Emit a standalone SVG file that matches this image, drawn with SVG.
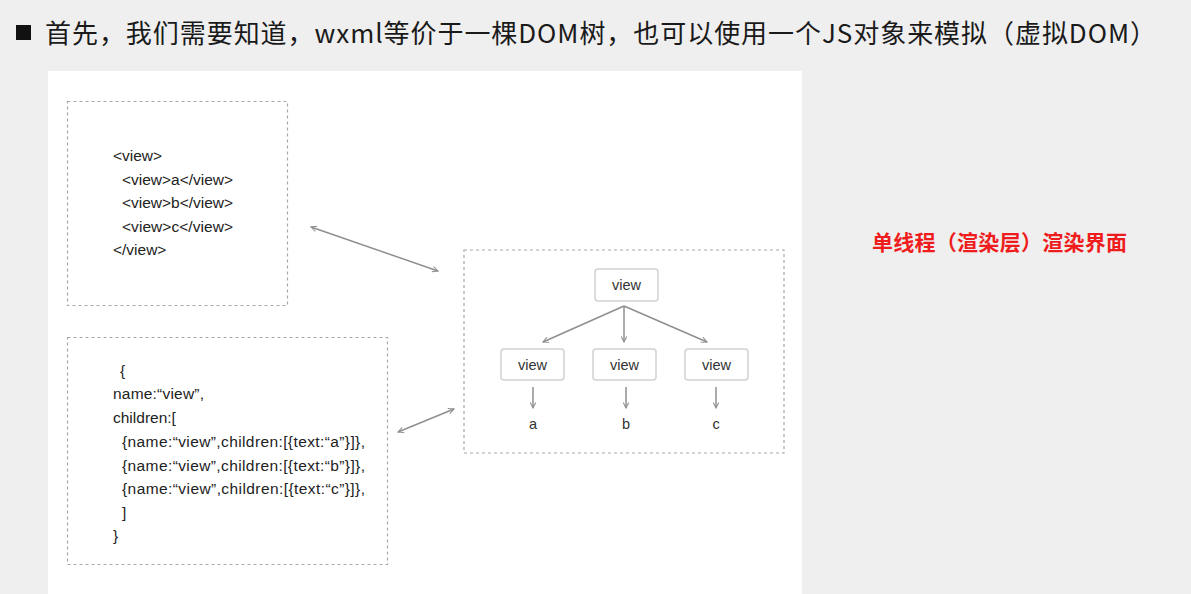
<svg xmlns="http://www.w3.org/2000/svg" width="1191" height="594" viewBox="0 0 1191 594">
  <style>
    .title { font-family: "Noto Sans CJK SC", "Noto Sans", sans-serif; font-size: 26px; fill: #1a1a1a; }
    .red { font-family: "Noto Sans CJK SC", sans-serif; font-size: 21px; font-weight: bold; fill: #ee1c1c; }
    .code { font-family: "Liberation Sans", Arial, sans-serif; font-size: 15.5px; fill: #222; }
    .lbl { font-family: "Liberation Sans", Arial, sans-serif; font-size: 14.5px; fill: #333; text-anchor: middle; }
    .dash { fill: none; stroke: #a8a8a8; stroke-width: 1.2; stroke-dasharray: 3 3; }
    .node { fill: #fff; stroke: #d2d2d2; stroke-width: 1.5; }
    .conn { fill: none; stroke: #8f8f8f; stroke-width: 1.5; }
  </style>
  <defs>
    <marker id="ah" viewBox="0 0 10 10" refX="9" refY="5" markerWidth="7" markerHeight="7" orient="auto-start-reverse" markerUnits="userSpaceOnUse">
      <path d="M1,1 L9,5 L1,9" fill="none" stroke="#8f8f8f" stroke-width="1.5"/>
    </marker>
  </defs>
  <rect x="0" y="0" width="1191" height="594" fill="#efefef"/>
  <rect x="48" y="71" width="754" height="523" fill="#ffffff"/>

  <g id="title">
    <rect x="16" y="25" width="15" height="15" fill="#111"/>
    <text class="title" x="45" y="43" textLength="1111" lengthAdjust="spacing">首先，我们需要知道，wxml等价于一棵DOM树，也可以使用一个JS对象来模拟（虚拟DOM）</text>
  </g>

  <g id="wxml-box">
    <rect class="dash" x="67.5" y="101.5" width="220" height="204"/>
    <text class="code" x="113" y="161">&lt;view&gt;</text>
    <text class="code" x="122" y="185" textLength="111" lengthAdjust="spacing">&lt;view&gt;a&lt;/view&gt;</text>
    <text class="code" x="122" y="208" textLength="111" lengthAdjust="spacing">&lt;view&gt;b&lt;/view&gt;</text>
    <text class="code" x="122" y="232" textLength="111" lengthAdjust="spacing">&lt;view&gt;c&lt;/view&gt;</text>
    <text class="code" x="113" y="255">&lt;/view&gt;</text>
  </g>

  <g id="js-box">
    <rect class="dash" x="67.5" y="337.5" width="320" height="227"/>
    <text class="code" x="120" y="376">{</text>
    <text class="code" x="113" y="399" textLength="91" lengthAdjust="spacing">name:“view”,</text>
    <text class="code" x="113" y="423">children:[</text>
    <text class="code" x="122" y="447" textLength="243" lengthAdjust="spacing">{name:“view”,children:[{text:“a”}]},</text>
    <text class="code" x="122" y="471" textLength="243" lengthAdjust="spacing">{name:“view”,children:[{text:“b”}]},</text>
    <text class="code" x="122" y="494" textLength="243" lengthAdjust="spacing">{name:“view”,children:[{text:“c”}]},</text>
    <text class="code" x="122" y="518">]</text>
    <text class="code" x="113" y="541">}</text>
  </g>

  <g id="tree-box">
    <rect class="dash" x="464" y="250" width="320" height="203"/>
  </g>

  <g id="root-view">
    <rect class="node" x="595" y="269" width="63" height="32" rx="3"/>
    <text class="lbl" x="626.5" y="290">view</text>
  </g>
  <g id="view-a">
    <rect class="node" x="501" y="349" width="63" height="31" rx="3"/>
    <text class="lbl" x="532.5" y="370">view</text>
  </g>
  <g id="view-b">
    <rect class="node" x="593" y="349" width="63" height="31" rx="3"/>
    <text class="lbl" x="624.5" y="370">view</text>
  </g>
  <g id="view-c">
    <rect class="node" x="685" y="349" width="63" height="31" rx="3"/>
    <text class="lbl" x="716.5" y="370">view</text>
  </g>
  <g id="leaf-a"><text class="lbl" x="533" y="429">a</text></g>
  <g id="leaf-b"><text class="lbl" x="626" y="429">b</text></g>
  <g id="leaf-c"><text class="lbl" x="716" y="429">c</text></g>

  <g id="note">
    <text class="red" x="872" y="250" textLength="255" lengthAdjust="spacing">单线程（渲染层）渲染界面</text>
  </g>

  <g id="connectors">
    <line class="conn" x1="311" y1="227" x2="438" y2="271" marker-start="url(#ah)" marker-end="url(#ah)"/>
    <line class="conn" x1="398" y1="432" x2="454" y2="409" marker-start="url(#ah)" marker-end="url(#ah)"/>
    <line class="conn" x1="624" y1="306" x2="543" y2="342" marker-end="url(#ah)"/>
    <line class="conn" x1="624" y1="306" x2="624" y2="342" marker-end="url(#ah)"/>
    <line class="conn" x1="624" y1="306" x2="707" y2="342" marker-end="url(#ah)"/>
    <line class="conn" x1="533" y1="387" x2="533" y2="408" marker-end="url(#ah)"/>
    <line class="conn" x1="626" y1="387" x2="626" y2="408" marker-end="url(#ah)"/>
    <line class="conn" x1="716" y1="387" x2="716" y2="408" marker-end="url(#ah)"/>
  </g>
</svg>
